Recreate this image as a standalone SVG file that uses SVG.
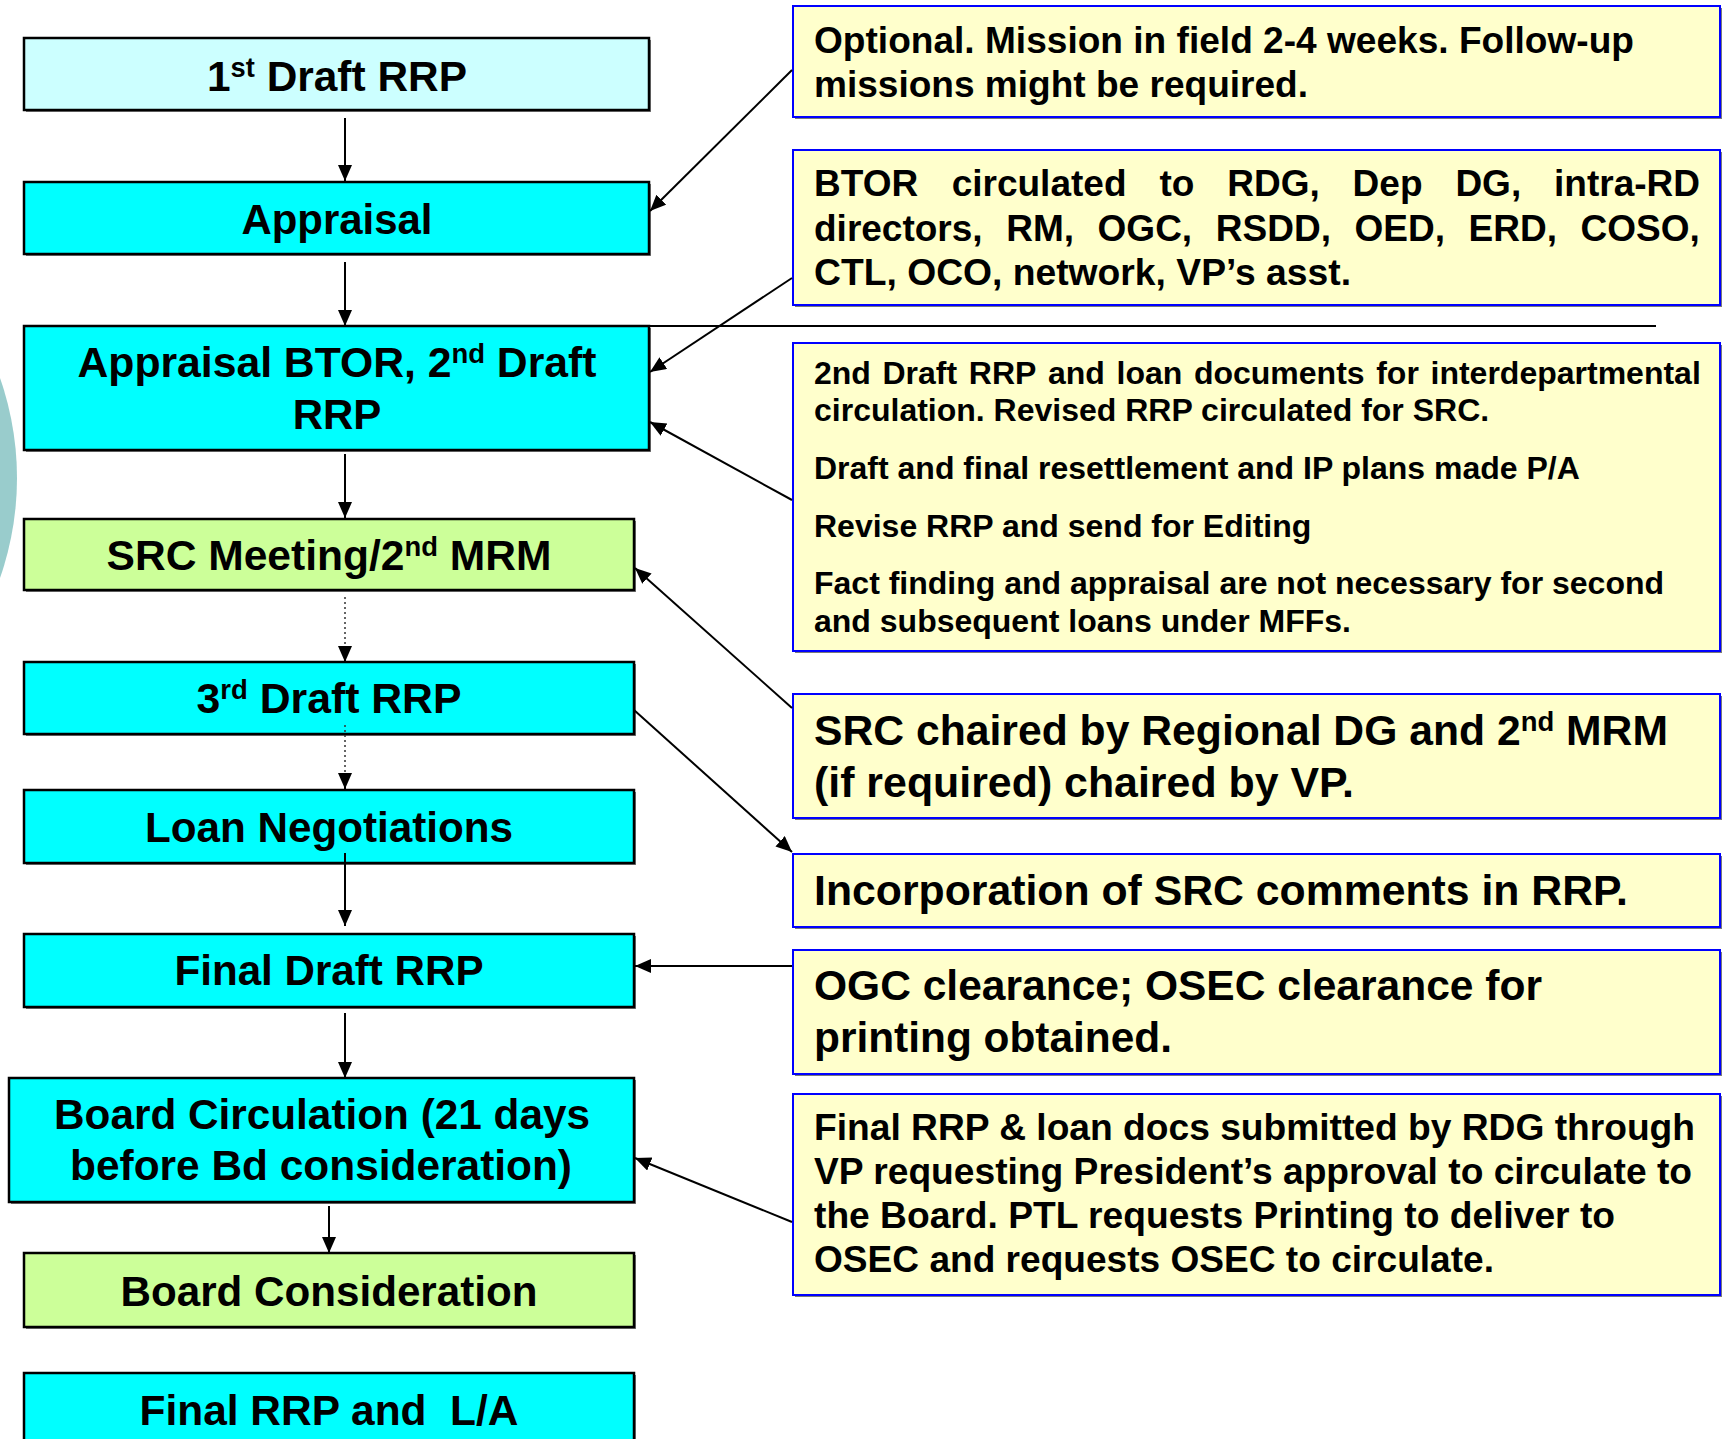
<svg xmlns="http://www.w3.org/2000/svg" width="1727" height="1439" viewBox="0 0 1727 1439">
<style>
.t{font-family:"Liberation Sans",Arial,Helvetica,sans-serif;font-weight:bold;fill:#000}
.big{font-size:42px}
.mid{font-size:37px}
.sm{font-size:32px}
.box{stroke:#000;stroke-width:2.5}
.cy{fill:#00FFFF}
.lc{fill:#CCFFFF}
.gr{fill:#CCFF99}
.note{fill:#FFFFCC;stroke:#0000FF;stroke-width:2}
.sh{fill:#7a7a7a}
.c{stroke:#000;stroke-width:2;fill:none}
.d{stroke:#333;stroke-width:1.5;fill:none;stroke-dasharray:2 3}
</style>
<defs>
<marker id="ah" markerUnits="userSpaceOnUse" markerWidth="17" markerHeight="15" refX="16" refY="7" orient="auto">
<path d="M0,0 L16,7 L0,14 z" fill="#000"/>
</marker>
</defs>
<rect x="0" y="0" width="1727" height="1439" fill="#FFFFFF"/>
<circle cx="-286" cy="478" r="303" fill="#99CCCC"/>

<g id="n1">
<rect class="sh" x="26" y="40" width="625" height="72"/>
<rect class="box lc" x="24" y="38" width="625" height="72"/>
<text class="t big" x="337" y="91" text-anchor="middle" textLength="260" lengthAdjust="spacingAndGlyphs">1<tspan font-size="27" dy="-14">st</tspan><tspan dy="14"> Draft RRP</tspan></text>
</g>
<g id="n2">
<rect class="sh" x="26" y="184" width="625" height="72"/>
<rect class="box cy" x="24" y="182" width="625" height="72"/>
<text class="t big" x="337" y="234" text-anchor="middle" textLength="191" lengthAdjust="spacingAndGlyphs">Appraisal</text>
</g>
<g id="n3">
<rect class="sh" x="26" y="328" width="625" height="124"/>
<rect class="box cy" x="24" y="326" width="625" height="124"/>
<text class="t big" x="337" y="377" text-anchor="middle" textLength="519" lengthAdjust="spacingAndGlyphs">Appraisal BTOR, 2<tspan font-size="27" dy="-14">nd</tspan><tspan dy="14"> Draft</tspan></text>
<text class="t big" x="337" y="429" text-anchor="middle">RRP</text>
</g>
<g id="n4">
<rect class="sh" x="26" y="521" width="610" height="71"/>
<rect class="box gr" x="24" y="519" width="610" height="71"/>
<text class="t big" x="329" y="570" text-anchor="middle" textLength="445" lengthAdjust="spacingAndGlyphs">SRC Meeting/2<tspan font-size="27" dy="-14">nd</tspan><tspan dy="14"> MRM</tspan></text>
</g>
<g id="n5">
<rect class="sh" x="26" y="664" width="610" height="72"/>
<rect class="box cy" x="24" y="662" width="610" height="72"/>
<text class="t big" x="329" y="713" text-anchor="middle" textLength="265" lengthAdjust="spacingAndGlyphs">3<tspan font-size="27" dy="-14">rd</tspan><tspan dy="14"> Draft RRP</tspan></text>
</g>
<g id="n6">
<rect class="sh" x="26" y="792" width="610" height="73"/>
<rect class="box cy" x="24" y="790" width="610" height="73"/>
<text class="t big" x="329" y="842" text-anchor="middle" textLength="368" lengthAdjust="spacingAndGlyphs">Loan Negotiations</text>
</g>
<g id="n7">
<rect class="sh" x="26" y="936" width="610" height="73"/>
<rect class="box cy" x="24" y="934" width="610" height="73"/>
<text class="t big" x="329" y="985" text-anchor="middle" textLength="309" lengthAdjust="spacingAndGlyphs">Final Draft RRP</text>
</g>
<g id="n8">
<rect class="sh" x="11" y="1080" width="625" height="124"/>
<rect class="box cy" x="9" y="1078" width="625" height="124"/>
<text class="t big" x="322" y="1129" text-anchor="middle" textLength="536" lengthAdjust="spacingAndGlyphs">Board Circulation (21 days</text>
<text class="t big" x="321" y="1180" text-anchor="middle" textLength="502" lengthAdjust="spacingAndGlyphs">before Bd consideration)</text>
</g>
<g id="n9">
<rect class="sh" x="26" y="1255" width="610" height="74"/>
<rect class="box gr" x="24" y="1253" width="610" height="74"/>
<text class="t big" x="329" y="1306" text-anchor="middle" textLength="417" lengthAdjust="spacingAndGlyphs">Board Consideration</text>
</g>
<g id="n10">
<rect class="sh" x="26" y="1375" width="610" height="100"/>
<rect class="box cy" x="24" y="1373" width="610" height="100"/>
<text class="t big" x="329" y="1425" text-anchor="middle" style="white-space:pre" textLength="379" lengthAdjust="spacingAndGlyphs">Final RRP and  L/A</text>
</g>

<g id="r1">
<rect class="sh" x="795" y="8" width="927" height="111"/>
<rect class="note" x="793" y="6" width="927" height="111"/>
<text class="t mid" x="814" y="53" textLength="820" lengthAdjust="spacingAndGlyphs">Optional. Mission in field 2-4 weeks. Follow-up</text>
<text class="t mid" x="814" y="97" textLength="494" lengthAdjust="spacingAndGlyphs">missions might be required.</text>
</g>
<g id="r2">
<rect class="sh" x="795" y="152" width="927" height="155"/>
<rect class="note" x="793" y="150" width="927" height="155"/>
<text class="t mid" y="196"><tspan x="814">BTOR</tspan><tspan x="951.7">circulated</tspan><tspan x="1159.4">to</tspan><tspan x="1227.2">RDG,</tspan><tspan x="1352.6">Dep</tspan><tspan x="1455.4">DG,</tspan><tspan x="1554.1">intra-RD</tspan></text>
<text class="t mid" y="241"><tspan x="814">directors,</tspan><tspan x="1006.2">RM,</tspan><tspan x="1097.6">OGC,</tspan><tspan x="1215.8">RSDD,</tspan><tspan x="1354.5">OED,</tspan><tspan x="1468.6">ERD,</tspan><tspan x="1580.6">COSO,</tspan></text>
<text class="t mid" x="814" y="285" textLength="537" lengthAdjust="spacingAndGlyphs">CTL, OCO, network, VP’s asst.</text>
</g>
<g id="r3">
<rect class="sh" x="795" y="345" width="927" height="308"/>
<rect class="note" x="793" y="343" width="927" height="308"/>
<text class="t sm" y="384"><tspan x="814">2nd</tspan><tspan x="882.5">Draft</tspan><tspan x="968.8">RRP</tspan><tspan x="1048">and</tspan><tspan x="1116.5">loan</tspan><tspan x="1193.9">documents</tspan><tspan x="1376.2">for</tspan><tspan x="1430.5">interdepartmental</tspan></text>
<text class="t sm" x="814" y="421">circulation. Revised RRP circulated for SRC.</text>
<text class="t sm" x="814" y="479">Draft and final resettlement and IP plans made P/A</text>
<text class="t sm" x="814" y="537">Revise RRP and send for Editing</text>
<text class="t sm" x="814" y="594">Fact finding and appraisal are not necessary for second</text>
<text class="t sm" x="814" y="632">and subsequent loans under MFFs.</text>
</g>
<g id="r4">
<rect class="sh" x="795" y="696" width="927" height="124"/>
<rect class="note" x="793" y="694" width="927" height="124"/>
<text class="t big" x="814" y="745" textLength="854" lengthAdjust="spacingAndGlyphs">SRC chaired by Regional DG and 2<tspan font-size="27" dy="-14">nd</tspan><tspan dy="14"> MRM</tspan></text>
<text class="t big" x="814" y="797" textLength="540" lengthAdjust="spacingAndGlyphs">(if required) chaired by VP.</text>
</g>
<g id="r5">
<rect class="sh" x="795" y="856" width="927" height="73"/>
<rect class="note" x="793" y="854" width="927" height="73"/>
<text class="t big" x="814" y="905" textLength="814" lengthAdjust="spacingAndGlyphs">Incorporation of SRC comments in RRP.</text>
</g>
<g id="r6">
<rect class="sh" x="795" y="952" width="927" height="124"/>
<rect class="note" x="793" y="950" width="927" height="124"/>
<text class="t big" x="814" y="1000" textLength="728" lengthAdjust="spacingAndGlyphs">OGC clearance; OSEC clearance for</text>
<text class="t big" x="814" y="1052" textLength="358" lengthAdjust="spacingAndGlyphs">printing obtained.</text>
</g>
<g id="r7">
<rect class="sh" x="795" y="1096" width="927" height="201"/>
<rect class="note" x="793" y="1094" width="927" height="201"/>
<text class="t mid" x="814" y="1140" textLength="881" lengthAdjust="spacingAndGlyphs">Final RRP &amp; loan docs submitted by RDG through</text>
<text class="t mid" x="814" y="1184" textLength="878" lengthAdjust="spacingAndGlyphs">VP requesting President’s approval to circulate to</text>
<text class="t mid" x="814" y="1228" textLength="801" lengthAdjust="spacingAndGlyphs">the Board. PTL requests Printing to deliver to</text>
<text class="t mid" x="814" y="1272" textLength="680" lengthAdjust="spacingAndGlyphs">OSEC and requests OSEC to circulate.</text>
</g>

<g id="connectors">
<line class="c" x1="120" y1="326" x2="1656" y2="326"/>
<line class="c" x1="345" y1="118" x2="345" y2="181" marker-end="url(#ah)"/>
<line class="c" x1="345" y1="262" x2="345" y2="326" marker-end="url(#ah)"/>
<line class="c" x1="345" y1="454" x2="345" y2="518" marker-end="url(#ah)"/>
<line class="d" x1="345" y1="597" x2="345" y2="648"/>
<line class="c" x1="345" y1="646" x2="345" y2="662" marker-end="url(#ah)"/>
<line class="d" x1="345" y1="725" x2="345" y2="776"/>
<line class="c" x1="345" y1="774" x2="345" y2="789" marker-end="url(#ah)"/>
<line class="c" x1="345" y1="853" x2="345" y2="926" marker-end="url(#ah)"/>
<line class="c" x1="345" y1="1013" x2="345" y2="1078" marker-end="url(#ah)"/>
<line class="c" x1="329" y1="1206" x2="329" y2="1253" marker-end="url(#ah)"/>
<line class="c" x1="792" y1="70" x2="650" y2="211" marker-end="url(#ah)"/>
<line class="c" x1="792" y1="278" x2="650" y2="372" marker-end="url(#ah)"/>
<line class="c" x1="792" y1="500" x2="650" y2="422" marker-end="url(#ah)"/>
<line class="c" x1="792" y1="708" x2="635" y2="568" marker-end="url(#ah)"/>
<line class="c" x1="634" y1="710" x2="792" y2="852" marker-end="url(#ah)"/>
<line class="c" x1="792" y1="966" x2="635" y2="966" marker-end="url(#ah)"/>
<line class="c" x1="792" y1="1222" x2="635" y2="1158" marker-end="url(#ah)"/>
</g>
</svg>
